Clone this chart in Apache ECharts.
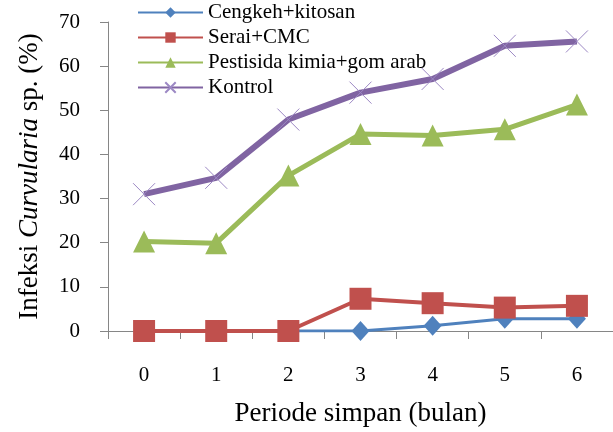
<!DOCTYPE html>
<html>
<head>
<meta charset="utf-8">
<script src="https://cdn.jsdelivr.net/npm/echarts@6/dist/echarts.min.js"></script>
<style>
html, body { margin: 0; padding: 0; background: #fff; }
#chart { width: 613px; height: 432px; }
</style>
</head>
<body>
<div id="chart"></div>
<script>
// data
const periods = ['0', '1', '2', '3', '4', '5', '6'];
const seriesNames = ['Cengkeh+kitosan', 'Serai+CMC', 'Pestisida kimia+gom arab', 'Kontrol'];
const cengkehKitosan = [0, 0, 0, 0, 1.2, 2.8, 2.8];
const seraiCMC = [0, 0, 0, 7.3, 6.3, 5.3, 5.7];
const pestisida = [20.3, 19.9, 35.2, 44.6, 44.3, 45.7, 51.3];
const kontrol = [31.0, 34.7, 47.9, 54.0, 57.1, 64.6, 65.6];
const yTicks = [0, 70, 10]; // min, max, interval

const font = 'Liberation Serif';

const option = {
  animation: false,
  backgroundColor: '#fff',
  textStyle: { fontFamily: font },
  legend: {
    orient: 'vertical',
    left: 137,
    top: 2,
    padding: 0,
    itemWidth: 65,
    itemHeight: 13,
    itemGap: 4,
    textStyle: { fontFamily: font, fontSize: 21, color: '#000' },
    data: seriesNames
  },
  grid: { left: 108, right: -23, top: 22, bottom: 100 },
  xAxis: {
    type: 'category',
    data: periods,
    boundaryGap: true,
    name: 'Periode simpan (bulan)',
    nameLocation: 'middle',
    nameGap: 69,
    nameTextStyle: { fontFamily: font, fontSize: 27, color: '#000' },
    axisLine: { lineStyle: { color: '#868686', width: 1 } },
    axisTick: { show: true, length: 8, inside: false, alignWithLabel: false, lineStyle: { color: '#868686' } },
    axisLabel: { fontFamily: font, fontSize: 21, color: '#000', margin: 34 },
    splitLine: { show: false }
  },
  yAxis: {
    type: 'value',
    min: yTicks[0],
    max: yTicks[1],
    interval: yTicks[2],
    name: '{n|Infeksi }{i|Curvularia}{n| sp. (%)}',
    nameLocation: 'middle',
    nameGap: 65,
    nameTextStyle: {
      rich: {
        n: { fontFamily: font, fontSize: 27, color: '#000' },
        i: { fontFamily: font, fontSize: 27, fontStyle: 'italic', color: '#000' }
      }
    },
    axisLine: { show: true, lineStyle: { color: '#868686', width: 1 } },
    axisTick: { show: true, length: 8, lineStyle: { color: '#868686' } },
    axisLabel: { fontFamily: font, fontSize: 21, color: '#000', margin: 28 },
    splitLine: { show: false }
  },
  series: [
    {
      name: seriesNames[0],
      type: 'line',
      data: cengkehKitosan,
      symbol: 'diamond',
      symbolSize: [18, 20],
      color: '#4F81BD',
      lineStyle: { width: 3, color: '#4F81BD' },
      itemStyle: { color: '#4F81BD' }
    },
    {
      name: seriesNames[1],
      type: 'line',
      data: seraiCMC,
      symbol: 'rect',
      symbolSize: 22,
      color: '#C0504D',
      lineStyle: { width: 4, color: '#C0504D' },
      itemStyle: { color: '#C0504D' }
    },
    {
      name: seriesNames[2],
      type: 'line',
      data: pestisida,
      symbol: 'triangle',
      symbolSize: 22,
      color: '#9BBB59',
      lineStyle: { width: 5, color: '#9BBB59' },
      itemStyle: { color: '#9BBB59' }
    },
    {
      name: seriesNames[3],
      type: 'line',
      data: kontrol,
      symbol: 'path://M0,0L10,10M10,0L0,10',
      symbolSize: 22,
      color: '#8064A2',
      lineStyle: { width: 6, color: '#8064A2' },
      itemStyle: { color: '#8064A2', borderColor: '#9C88C4', borderWidth: 1 }
    }
  ]
};

const chart = echarts.init(document.getElementById('chart'));
chart.setOption(option);
</script>
</body>
</html>
